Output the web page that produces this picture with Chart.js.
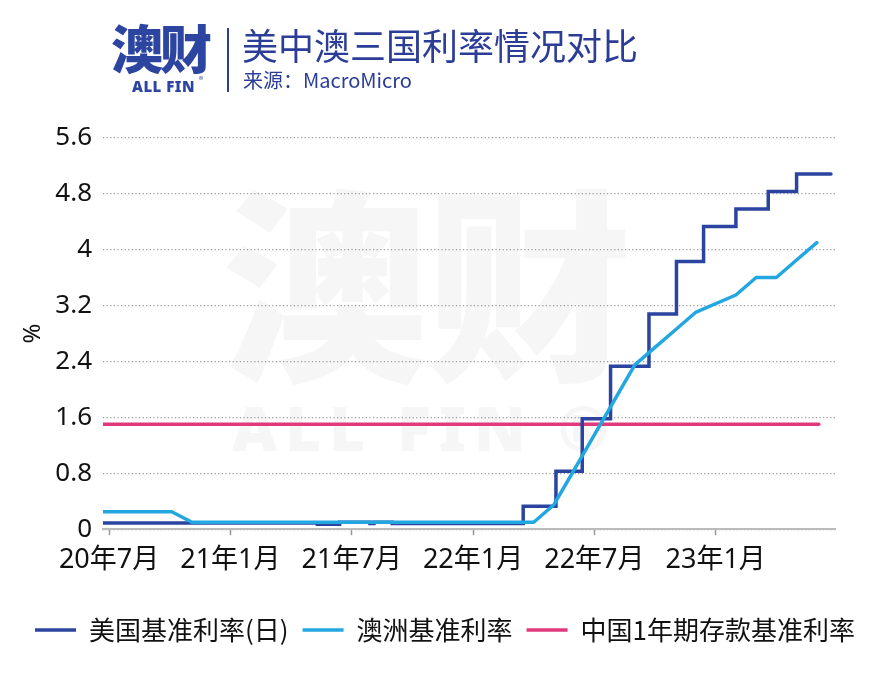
<!DOCTYPE html>
<html>
<head>
<meta charset="utf-8">
<script src="https://cdn.jsdelivr.net/npm/chart.js@4"></script>
<style>
  html, body { margin: 0; padding: 0; background: #fff; }
  #wrap { position: relative; width: 872px; height: 677px; overflow: hidden; font-family: "Noto Sans CJK SC", "Noto Sans", sans-serif; }
  #wm { position: absolute; left: 0; top: 0; width: 872px; height: 677px; z-index: 0; }
  #wm .big { position: absolute; left: 222px; top: 172px; font-size: 206px; font-weight: 900; color: #f6f6f6; line-height: 1; letter-spacing: -2px; white-space: nowrap; }
  #wm .small { position: absolute; left: 232px; top: 396px; font-family: "Noto Sans", sans-serif; font-size: 62px; font-weight: 900; color: #f6f6f6; line-height: 1; letter-spacing: 8px; white-space: nowrap; }
  #chart { position: absolute; left: 0; top: 0; z-index: 1; }
  #head { position: absolute; left: 0; top: 0; z-index: 2; width: 872px; height: 110px; color: #2b3d97; }
  .logo { position: absolute; left: 111px; top: 16px; font-size: 52px; font-weight: 900; color: #2b45a0; line-height: 1.2; letter-spacing: -3px; }
  .allfin { position: absolute; left: 132px; top: 76px; font-family: "Noto Sans", sans-serif; font-size: 15px; font-weight: 900; color: #2b45a0; letter-spacing: 0.5px; }
  .reg { position: absolute; left: 199px; top: 73px; font-size: 9px; color: #2b45a0; }
  .bar { position: absolute; left: 227px; top: 28px; width: 2px; height: 64px; background: #2b3d97; }
  .title { position: absolute; left: 242px; top: 23px; font-size: 36px; line-height: 1.2; white-space: nowrap; }
  .sub { position: absolute; left: 243px; top: 68px; font-size: 20px; line-height: 1.2; white-space: nowrap; }
</style>
</head>
<body>
<div id="wrap">
  <div id="wm"><div class="big">澳财</div><div class="small">ALL FIN ®</div></div>
  <canvas id="chart" width="872" height="677"></canvas>
  <div id="head">
    <div class="logo">澳财</div>
    <div class="allfin">ALL FIN</div>
    <div class="reg">®</div>
    <div class="bar"></div>
    <div class="title">美中澳三国利率情况对比</div>
    <div class="sub">来源：MacroMicro</div>
  </div>
</div>
<script>
  // x = months since 2020-07
  const xTickVals = [0, 6, 12, 18, 24, 30];
  const xTickLabels = ["20年7月", "21年1月", "21年7月", "22年1月", "22年7月", "23年1月"];

  const seriesNames = ["美国基准利率(日)", "澳洲基准利率", "中国1年期存款基准利率"];

  // US effective fed funds (daily, step)
  const fedX = [-0.3, 10.3, 11.4, 12.9, 13.1, 14, 20.48, 22.1, 23.4, 24.8, 26.7, 28.06, 29.4, 31.0, 32.6, 34.0, 35.7];
  const fedY = [0.09, 0.07, 0.10, 0.08, 0.10, 0.08, 0.33, 0.83, 1.58, 2.33, 3.08, 3.83, 4.33, 4.58, 4.83, 5.08, 5.08];

  // RBA cash rate (monthly)
  const auX = [-0.3, 3.1, 4.1, 21, 22, 23, 24, 25, 26, 27, 28, 29, 31, 32, 33, 34, 35];
  const auY = [0.25, 0.25, 0.10, 0.10, 0.35, 0.85, 1.35, 1.85, 2.35, 2.60, 2.85, 3.10, 3.35, 3.60, 3.60, 3.85, 4.10];

  // China 1y deposit rate
  const cnX = [-0.3, 35.1];
  const cnY = [1.5, 1.5];

  const colors = ["#2a44a0", "#22a7e1", "#e03a7c"];

  const pts = (xs, ys) => xs.map((x, i) => ({ x, y: ys[i] }));

  new Chart(document.getElementById("chart"), {
    type: "line",
    data: {
      datasets: [
        { label: seriesNames[0], data: pts(fedX, fedY), borderColor: colors[0], backgroundColor: colors[0],
          borderWidth: 3.5, stepped: true, pointRadius: 0, order: 1, borderCapStyle: "round" },
        { label: seriesNames[1], data: pts(auX, auY), borderColor: colors[1], backgroundColor: colors[1],
          borderWidth: 3.5, pointRadius: 0, order: 0, borderCapStyle: "round", borderJoinStyle: "round" },
        { label: seriesNames[2], data: pts(cnX, cnY), borderColor: colors[2], backgroundColor: colors[2],
          borderWidth: 3.5, pointRadius: 0, order: 2, borderCapStyle: "round" },
      ],
    },
    options: {
      responsive: false,
      animation: false,
      layout: { padding: { left: 18, right: 0, top: 137.7, bottom: 24 } },
      plugins: {
        tooltip: { enabled: false },
        legend: {
          position: "bottom",
          labels: {
            usePointStyle: true,
            pointStyle: "line",
            pointStyleWidth: 41,
            padding: 14,
            color: "#111",
            font: { family: '"Noto Sans CJK SC", sans-serif', size: 26 },
            sort: (a, b) => a.datasetIndex - b.datasetIndex,
          },
        },
      },
      scales: {
        x: {
          type: "linear",
          min: -0.3,
          max: 35.9,
          afterBuildTicks: (s) => { s.ticks = xTickVals.map(v => ({ value: v })); },
          afterFit: (s) => { s.height = 73.8; },
          ticks: {
            autoSkip: false,
            maxRotation: 0,
            padding: 9,
            color: "#111",
            font: { family: '"Noto Sans", "Noto Sans CJK SC", sans-serif', size: 27 },
            callback: (v) => xTickLabels[xTickVals.indexOf(v)],
          },
          grid: { drawOnChartArea: false, drawTicks: true, tickLength: 6, tickColor: "#999", tickWidth: 1.5 },
          border: { color: "#bbb", width: 2 },
        },
        y: {
          min: 0,
          max: 5.6,
          afterFit: (s) => { s.width = 85; },
          ticks: {
            stepSize: 0.8,
            padding: 11,
            color: "#111",
            font: { family: '"Noto Sans", sans-serif', size: 26 },
            callback: (v) => String(Math.round(v * 10) / 10),
          },
          grid: { color: "#999", lineWidth: 1.2, drawTicks: false },
          border: { display: false, dash: [1.2, 2.4] },
          title: {
            display: true,
            text: "%",
            color: "#111",
            font: { family: '"Noto Sans", sans-serif', size: 24 },
            padding: { top: 0.6, bottom: 0 },
          },
        },
        // empty right gutter so the plot ends where the original does
        yPad: {
          position: "right",
          afterFit: (s) => { s.width = 37; },
          ticks: { display: false },
          grid: { display: false },
          border: { display: false },
        },
      },
    },
  });
</script>
</body>
</html>
